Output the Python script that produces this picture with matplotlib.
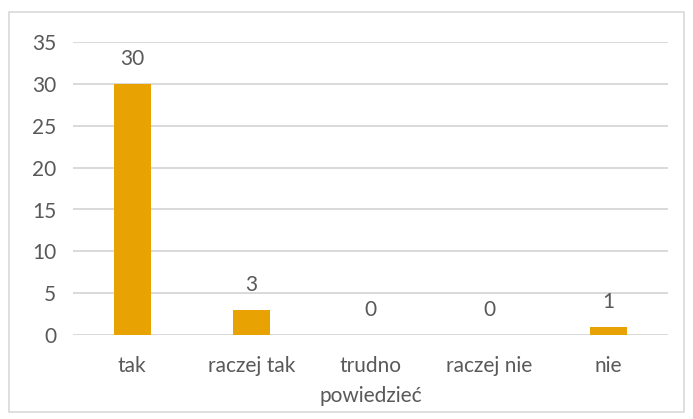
import matplotlib
matplotlib.use('Agg')
import matplotlib.pyplot as plt
from matplotlib.patches import Rectangle

# dane
categories = ["tak", "raczej tak", "trudno\npowiedzieć", "raczej nie", "nie"]
values = [30, 3, 0, 0, 1]
yticks = [0, 5, 10, 15, 20, 25, 30, 35]

bar_color = '#E8A202'
text_color = '#595959'
grid_color = '#D9D9D9'

plt.rcParams['font.family'] = ['Lato', 'DejaVu Sans']

fig = plt.figure(figsize=(6.93, 4.19), dpi=100)
ax = fig.add_axes([0.105, 0.200, 0.859, 0.700])

# ramka wokół wykresu
fig.patches.append(Rectangle((9 / 693, 1 - 412 / 419), 675 / 693, 400 / 419,
                             transform=fig.transFigure, fill=False,
                             edgecolor=grid_color, linewidth=1.2))

x = range(len(categories))
ax.bar(x, values, width=0.31, color=bar_color, zorder=3)

for i, v in zip(x, values):
    ax.annotate(str(v), (i, v), xytext=(0, 11), textcoords='offset points',
                ha='center', va='bottom', fontsize=15, color=text_color)

ax.set_xlim(-0.5, len(categories) - 0.5)
ax.set_ylim(0, 35)
ax.set_yticks(yticks)
ax.set_xticks(list(x))
ax.set_xticklabels(categories, linespacing=1.6)
ax.tick_params(axis='both', length=0, labelsize=15, labelcolor=text_color)
ax.tick_params(axis='x', pad=15)
ax.tick_params(axis='y', pad=12)
ax.grid(axis='y', color=grid_color, linewidth=1.4, zorder=0)
for s in ax.spines.values():
    s.set_visible(False)

fig.savefig("out.png", dpi=100)
